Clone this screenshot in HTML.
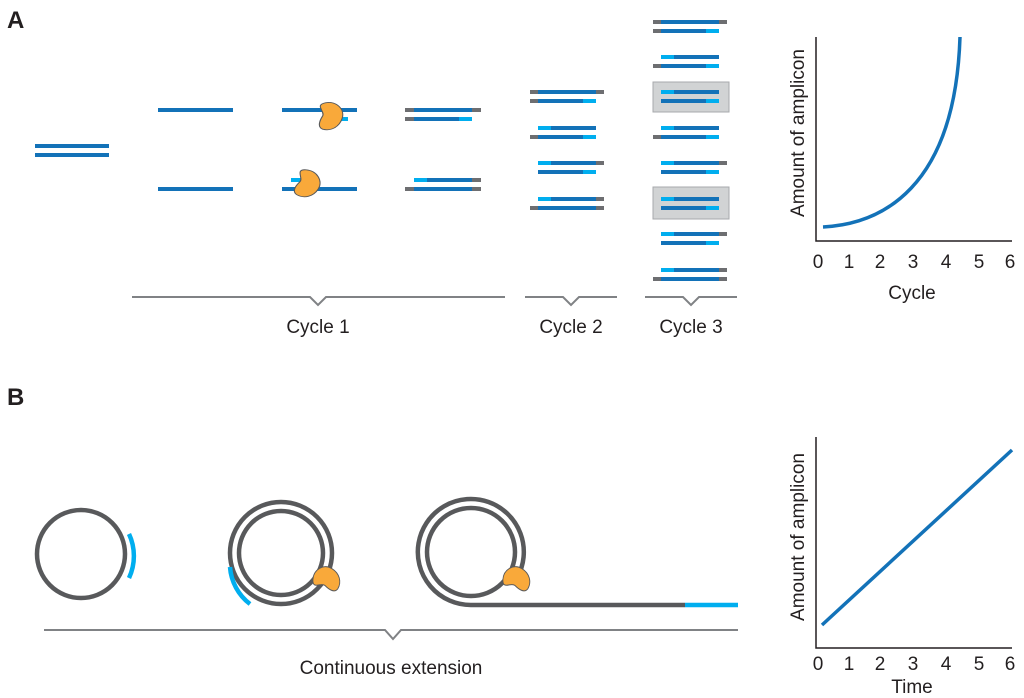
<!DOCTYPE html>
<html><head><meta charset="utf-8"><style>
html,body{margin:0;padding:0;background:#fff}
svg{display:block}
text{font-family:"Liberation Sans",sans-serif;fill:#231f20}
</style></head><body>
<svg width="1024" height="698" viewBox="0 0 1024 698" xmlns="http://www.w3.org/2000/svg">
<defs>
<g id="enz"><path d="M-4,-12 C4,-14 10,-6 8,2 C6,10 0,14 -6,12 C-10,10 -8,4 -6,0 C-4,-4 -12,-10 -4,-12 Z" fill="#f9a93a" stroke="#58595b" stroke-width="0.8"/></g>
</defs>
<text x="7" y="28" font-size="24" font-weight="bold">A</text>
<text x="7" y="405" font-size="24" font-weight="bold">B</text>
<g stroke-width="4" fill="none">
<line x1="35" y1="146" x2="109" y2="146" stroke="#1372b8"/>
<line x1="35" y1="155" x2="109" y2="155" stroke="#1372b8"/>
<line x1="158" y1="110" x2="233" y2="110" stroke="#1372b8"/>
<line x1="158" y1="189" x2="233" y2="189" stroke="#1372b8"/>
<line x1="282" y1="110" x2="357" y2="110" stroke="#1372b8"/>
<line x1="336" y1="119" x2="348" y2="119" stroke="#00aeef"/>
<line x1="282" y1="189" x2="357" y2="189" stroke="#1372b8"/>
<line x1="291" y1="180" x2="304" y2="180" stroke="#00aeef"/>
<line x1="405" y1="110" x2="414" y2="110" stroke="#6d6e71"/><line x1="414" y1="110" x2="472" y2="110" stroke="#1372b8"/><line x1="472" y1="110" x2="481" y2="110" stroke="#6d6e71"/>
<line x1="405" y1="119" x2="414" y2="119" stroke="#6d6e71"/><line x1="414" y1="119" x2="459" y2="119" stroke="#1372b8"/><line x1="459" y1="119" x2="472" y2="119" stroke="#00aeef"/>
<line x1="414" y1="180" x2="427" y2="180" stroke="#00aeef"/><line x1="427" y1="180" x2="472" y2="180" stroke="#1372b8"/><line x1="472" y1="180" x2="481" y2="180" stroke="#6d6e71"/>
<line x1="405" y1="189" x2="414" y2="189" stroke="#6d6e71"/><line x1="414" y1="189" x2="472" y2="189" stroke="#1372b8"/><line x1="472" y1="189" x2="481" y2="189" stroke="#6d6e71"/>
</g>
<use href="#enz" transform="translate(331,116) scale(1.4,1.1)"/>
<use href="#enz" transform="translate(308,184) rotate(15) scale(1.4,1.1)"/>
<rect x="653" y="82" width="76" height="30" fill="#d1d3d4" stroke="#a7a9ac" stroke-width="1"/>
<rect x="653" y="187" width="76" height="32" fill="#d1d3d4" stroke="#a7a9ac" stroke-width="1"/>
<g id="strands" stroke-width="4"></g>
<script>
(function(){
var g=document.getElementById('strands'),NS="http://www.w3.org/2000/svg";
var G="#6d6e71",D="#1372b8",L="#00aeef";
function ln(x1,x2,y,c){var l=document.createElementNS(NS,'line');l.setAttribute('x1',x1);l.setAttribute('x2',x2);l.setAttribute('y1',y);l.setAttribute('y2',y);l.setAttribute('stroke',c);g.appendChild(l);}
function full(x,y){ln(x,x+8,y,G);ln(x+8,x+66,y,D);ln(x+66,x+74,y,G);}
function gbl(x,y){ln(x,x+8,y,G);ln(x+8,x+53,y,D);ln(x+53,x+66,y,L);}
function lb(x,y){ln(x+8,x+21,y,L);ln(x+21,x+66,y,D);}
function lbg(x,y){lb(x,y);ln(x+66,x+74,y,G);}
function bl(x,y){ln(x+8,x+53,y,D);ln(x+53,x+66,y,L);}
var T={A:function(x,y){full(x,y);gbl(x,y+9);},B:function(x,y){lb(x,y);gbl(x,y+9);},C:function(x,y){lbg(x,y);bl(x,y+9);},D:function(x,y){lbg(x,y);full(x,y+9);},E:function(x,y){lb(x,y);bl(x,y+9);}};
[["A",92],["B",128],["C",163],["D",199]].forEach(function(p){T[p[0]](530,p[1]);});
[["A",22],["B",57],["E",92],["B",128],["C",163],["E",199],["C",234],["D",270]].forEach(function(p){T[p[0]](653,p[1]);});
})();
</script>
<g stroke="#808285" stroke-width="2" fill="none">
<polyline points="132,297 310,297 318,305 326,297 505,297"/>
<polyline points="525,297 563,297 571,305 579,297 617,297"/>
<polyline points="645,297 683,297 691,305 699,297 737,297"/>
<polyline points="44,630 385,630 393,639 401,630 738,630"/>
</g>
<g font-size="19" text-anchor="middle">
<text x="318" y="333">Cycle 1</text>
<text x="571" y="333">Cycle 2</text>
<text x="691" y="333">Cycle 3</text>
<text x="391" y="674">Continuous extension</text>
</g>
<g stroke="#231f20" stroke-width="1.5" fill="none">
<polyline points="816,37 816,241 1012,241"/>
<polyline points="816,437 816,648 1012,648"/>
</g>
<path d="M823,227 C880,224 955,190 960,37" stroke="#1372b8" stroke-width="3.5" fill="none"/>
<line x1="822" y1="625" x2="1012" y2="450" stroke="#1372b8" stroke-width="3.5"/>
<g font-size="19" text-anchor="middle">
<text x="818" y="268">0</text><text x="849" y="268">1</text><text x="880" y="268">2</text><text x="913" y="268">3</text><text x="946" y="268">4</text><text x="979" y="268">5</text><text x="1010" y="268">6</text>
<text x="912" y="299">Cycle</text>
<text x="818" y="670">0</text><text x="849" y="670">1</text><text x="880" y="670">2</text><text x="913" y="670">3</text><text x="946" y="670">4</text><text x="979" y="670">5</text><text x="1010" y="670">6</text>
<text x="912" y="693">Time</text>
<text transform="translate(804,133) rotate(-90)">Amount of amplicon</text>
<text transform="translate(804,537) rotate(-90)">Amount of amplicon</text>
</g>
<g fill="none" stroke-width="4.5">
<circle cx="81" cy="554" r="44" stroke="#58595b"/>
<path d="M129,534 A52,52 0 0 1 129,578" stroke="#00aeef"/>
<circle cx="281" cy="553" r="51" stroke="#58595b"/>
<circle cx="281" cy="553" r="42" stroke="#58595b"/>
<path d="M230,567 A51,51 0 0 0 250,604" stroke="#00aeef"/>
<circle cx="471" cy="552" r="44" stroke="#58595b"/>
<path d="M471,605 A53,53 0 1 1 517,578" stroke="#58595b"/>
<line x1="471" y1="605" x2="685" y2="605" stroke="#58595b"/>
<line x1="685" y1="605" x2="738" y2="605" stroke="#00aeef"/>
</g>
<use href="#enz" transform="translate(327,578) rotate(-75) scale(1.3,1.1)"/>
<use href="#enz" transform="translate(517,578) rotate(-75) scale(1.3,1.1)"/>
</svg>
</body></html>
